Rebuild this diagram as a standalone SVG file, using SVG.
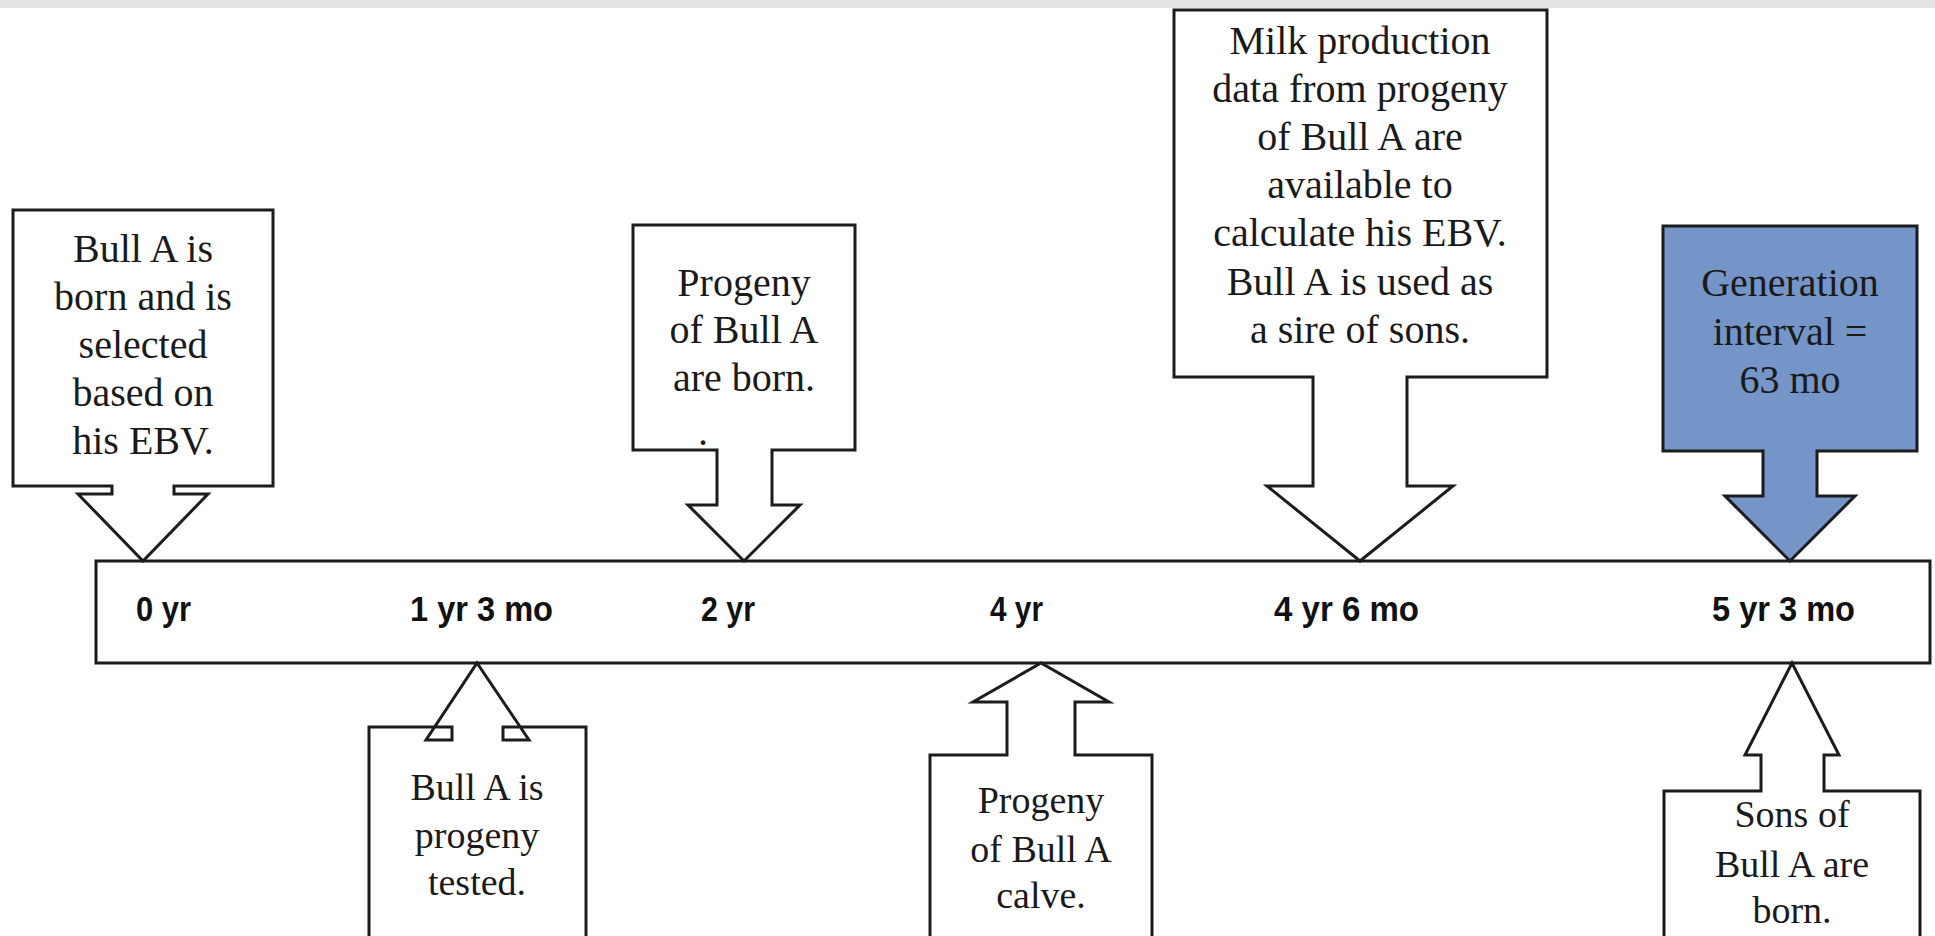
<svg xmlns="http://www.w3.org/2000/svg" width="1935" height="936" viewBox="0 0 1935 936">
<style>
.box{fill:#ffffff;stroke:#1c1c1c;stroke-width:3;stroke-linejoin:miter}
.blue{fill:#7595c8}
.t{font-family:"Liberation Serif","Times New Roman",serif;font-size:40px;fill:#1a1a1a;text-anchor:middle}
.tb{font-size:38px}
.lab{font-family:"Liberation Sans",Arial,sans-serif;font-weight:bold;font-size:35px;fill:#111111}
</style>
<rect x="0" y="0" width="1935" height="936" fill="#ffffff"/>
<rect x="0" y="0" width="1935" height="8" fill="#e3e3e3"/>

<g id="timeline">
<rect class="box" x="96" y="561" width="1834" height="102"/>
<text class="lab" x="136" y="621" textLength="55" lengthAdjust="spacingAndGlyphs">0 yr</text>
<text class="lab" x="410" y="621" textLength="143" lengthAdjust="spacingAndGlyphs">1 yr 3 mo</text>
<text class="lab" x="701" y="621" textLength="54" lengthAdjust="spacingAndGlyphs">2 yr</text>
<text class="lab" x="990" y="621" textLength="53" lengthAdjust="spacingAndGlyphs">4 yr</text>
<text class="lab" x="1274" y="621" textLength="145" lengthAdjust="spacingAndGlyphs">4 yr 6 mo</text>
<text class="lab" x="1712" y="621" textLength="143" lengthAdjust="spacingAndGlyphs">5 yr 3 mo</text>
</g>

<g id="connectors">
</g>

<g id="node-born">
<path class="box" d="M13,210 H273 V486 H174 V494 H208 L143,561 L78,494 H112 V486 H13 Z"/>
<text class="t" x="143" y="262">Bull A is</text>
<text class="t" x="143" y="310">born and is</text>
<text class="t" x="143" y="358">selected</text>
<text class="t" x="143" y="406">based on</text>
<text class="t" x="143" y="454">his EBV.</text>
</g>

<g id="node-progeny-born">
<path class="box" d="M633,225 H855 V450 H772 V505 H800 L744,561 L688,505 H717 V450 H633 Z"/>
<text class="t" x="744" y="296">Progeny</text>
<text class="t" x="744" y="343">of Bull A</text>
<text class="t" x="744" y="391">are born.</text>
<text class="t" x="703" y="445">.</text>
</g>

<g id="node-milk">
<path class="box" d="M1174,10 H1547 V377 H1407 V486 H1453 L1360,561 L1267,486 H1313 V377 H1174 Z"/>
<text class="t" x="1360" y="54">Milk production</text>
<text class="t" x="1360" y="102">data from progeny</text>
<text class="t" x="1360" y="150">of Bull A are</text>
<text class="t" x="1360" y="198">available to</text>
<text class="t" x="1360" y="246">calculate his EBV.</text>
<text class="t" x="1360" y="295">Bull A is used as</text>
<text class="t" x="1360" y="343">a sire of sons.</text>
</g>

<g id="node-generation">
<path class="box blue" d="M1663,226 H1917 V451 H1817 V496 H1855 L1790,561 L1725,496 H1763 V451 H1663 Z"/>
<text class="t" x="1790" y="296">Generation</text>
<text class="t" x="1790" y="345">interval =</text>
<text class="t" x="1790" y="393">63 mo</text>
</g>

<g id="node-tested">
<path class="box" d="M369,945 V727 H452 V740 H426 L477,663 L529,740 H503 V727 H586 V945 Z"/>
<text class="t tb" x="477" y="800">Bull A is</text>
<text class="t tb" x="477" y="848">progeny</text>
<text class="t tb" x="477" y="895">tested.</text>
</g>

<g id="node-calve">
<path class="box" d="M930,945 V755 H1007 V702 H973 L1041,663 L1109,702 H1075 V755 H1152 V945 Z"/>
<text class="t tb" x="1041" y="813">Progeny</text>
<text class="t tb" x="1041" y="862">of Bull A</text>
<text class="t tb" x="1041" y="908">calve.</text>
</g>

<g id="node-sons">
<path class="box" d="M1664,945 V791 H1761 V755 H1745 L1792,663 L1839,755 H1824 V791 H1920 V945 Z"/>
<text class="t tb" x="1792" y="827">Sons of</text>
<text class="t tb" x="1792" y="877">Bull A are</text>
<text class="t tb" x="1792" y="923">born.</text>
</g>
</svg>
